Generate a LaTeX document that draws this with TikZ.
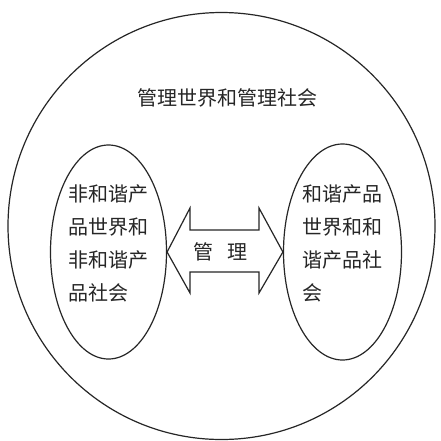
\documentclass[tikz,border=0pt]{standalone}
\usepackage{fontspec}
\usetikzlibrary{shapes.geometric}
\newfontfamily\cjk{Noto Sans CJK SC}
\begin{document}
\begin{tikzpicture}[x=1pt,y=-1pt,
  line/.style={draw=black!85,line width=1.2pt},
  lbl/.style={font=\cjk\fontsize{20}{33}\selectfont,text=black!85,inner sep=0pt},
  blk/.style={lbl,align=left,text width=84pt}]
\useasboundingbox (0,0) rectangle (441,440);
\fill[white] (0,0) rectangle (441,440);
\begin{scope}
\clip (0,0) rectangle (441,440);
\draw[line] (221.5,226) circle[radius=213.5];
\end{scope}
\node[line,ellipse,minimum width=116pt,minimum height=214pt,inner sep=0pt] (le) at (108.5,252) {};
\node[line,ellipse,minimum width=118pt,minimum height=216pt,inner sep=0pt] (re) at (342.5,252) {};
\path (le.east) coordinate (tl) (re.west) coordinate (tr);
\draw[line,line join=miter]
  (tl) -- (190,208) -- (190,230) -- (259,230) -- (259,208) -- (tr)
  -- (259,293) -- (259,272) -- (190,272) -- (190,293) -- cycle;
\node[lbl] (title) at (227,98) {管理世界和管理社会};
\node[lbl] (mg) at (220,252) {管\hspace{14pt}理};
\node[blk,anchor=north west] (lt) at (68,184) {非和谐产\\品世界和\\非和谐产\\品社会};
\node[blk,anchor=north west] (rt) at (302,184) {和谐产品\\世界和和\\谐产品社\\会};
\end{tikzpicture}
\end{document}
